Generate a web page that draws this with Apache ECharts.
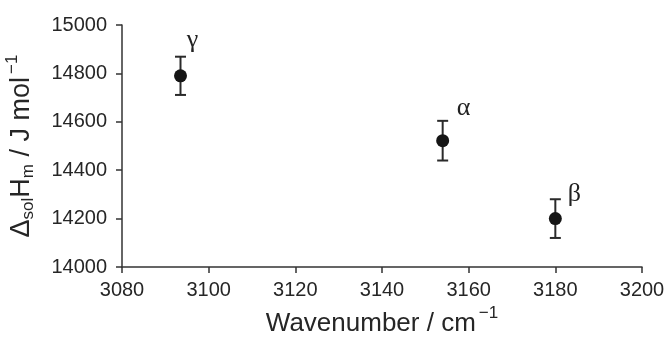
<!DOCTYPE html>
<html><head><meta charset="utf-8">
<script src="https://cdn.jsdelivr.net/npm/echarts@6/dist/echarts.min.js"></script>
<style>html,body{margin:0;padding:0;background:#fff}#c{width:667px;height:338px}</style>
</head><body><div id="c"></div>
<script>
const wavenumbers = [3093.5, 3154, 3180];
const enthalpies = [14790, 14522, 14200];
const errors = [79, 82, 80];
const forms = ['γ', 'α', 'β'];
const xTicks = [3080, 3100, 3120, 3140, 3160, 3180, 3200];
const yTicks = [14000, 14200, 14400, 14600, 14800, 15000];

const labelOffsets = [[12, -36], [21, -33], [19, -24]];
const textColor = '#262626';
const font = 'Liberation Sans, Arial, sans-serif';

const chart = echarts.init(document.getElementById('c'), null, {renderer: 'canvas'});
const pts = wavenumbers.map((x, i) => ({
  value: [x, enthalpies[i]],
  label: {show: true, formatter: forms[i], offset: labelOffsets[i]}
}));
const errData = wavenumbers.map((x, i) => [x, enthalpies[i] - errors[i], enthalpies[i] + errors[i]]);

function richStyles(size) {
  return {
    n: {fontSize: size, fontFamily: font, color: textColor, verticalAlign: 'middle', lineHeight: size},
    sub: {fontSize: 17, fontFamily: font, color: textColor, verticalAlign: 'middle', lineHeight: 17, padding: [12, 0, 0, 0]},
    sup: {fontSize: 17, fontFamily: font, color: textColor, verticalAlign: 'middle', lineHeight: 17, padding: [0, 0, 20, 3]}
  };
}

chart.setOption({
  animation: false,
  grid: {left: 122, right: 25, top: 25, bottom: 71, outerBoundsMode: 'none', containLabel: false},
  xAxis: {
    type: 'value', min: xTicks[0], max: xTicks[xTicks.length - 1], interval: 20,
    axisLine: {show: true, onZero: false, lineStyle: {color: '#333', width: 1.5}},
    axisTick: {show: true, length: 6, lineStyle: {color: '#333', width: 1.5}},
    splitLine: {show: false},
    axisLabel: {color: textColor, fontSize: 20, fontFamily: font, margin: 13, formatter: v => String(v)},
    name: '{n|Wavenumber / cm}{sup|−1}',
    nameLocation: 'middle', nameGap: 36,
    nameTextStyle: {color: textColor, fontSize: 26, fontFamily: font, rich: richStyles(26)}
  },
  yAxis: {
    type: 'value', min: yTicks[0], max: yTicks[yTicks.length - 1], interval: 200,
    axisLine: {show: true, lineStyle: {color: '#333', width: 1.5}},
    axisTick: {show: true, length: 6, lineStyle: {color: '#333', width: 1.5}},
    splitLine: {show: false},
    axisLabel: {color: textColor, fontSize: 20, fontFamily: font, margin: 15, formatter: v => String(v)},
    name: '{n|Δ}{sub|sol}{n|H}{sub|m}{n| / J mol}{sup|−1}',
    nameLocation: 'middle', nameGap: 69, nameRotate: 90,
    nameTextStyle: {color: textColor, fontSize: 27, fontFamily: font, rich: richStyles(27)}
  },
  series: [
    {
      type: 'custom',
      data: errData,
      z: 2,
      renderItem: function (params, api) {
        const x = api.value(0);
        const lo = api.coord([x, api.value(1)]);
        const hi = api.coord([x, api.value(2)]);
        const w = 5.5;
        const st = {stroke: '#2a2a2a', lineWidth: 2};
        return {type: 'group', children: [
          {type: 'line', shape: {x1: lo[0], y1: lo[1], x2: hi[0], y2: hi[1]}, style: st},
          {type: 'line', shape: {x1: lo[0] - w, y1: lo[1], x2: lo[0] + w, y2: lo[1]}, style: st},
          {type: 'line', shape: {x1: hi[0] - w, y1: hi[1], x2: hi[0] + w, y2: hi[1]}, style: st}
        ]};
      }
    },
    {
      type: 'scatter',
      data: pts,
      symbol: 'circle', symbolSize: 13, z: 3,
      itemStyle: {color: '#151515', opacity: 1},
      label: {color: '#222', fontSize: 26, fontFamily: 'Liberation Serif, Times New Roman, serif', position: 'inside'}
    }
  ]
});
</script></body></html>
